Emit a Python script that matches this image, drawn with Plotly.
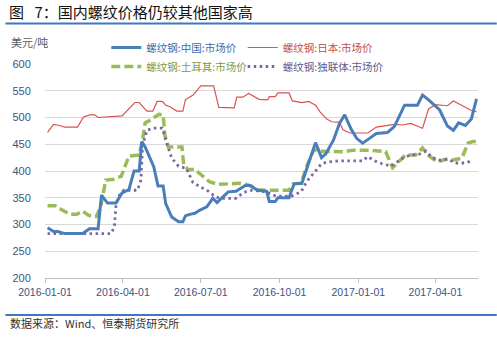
import plotly.graph_objects as go

# 螺纹钢市场价（美元/吨）
china_dates = ["2016-01-04", "2016-01-11", "2016-01-16", "2016-01-24", "2016-02-14", "2016-02-22",
               "2016-03-03", "2016-03-07", "2016-03-14", "2016-03-24", "2016-03-31", "2016-04-08",
               "2016-04-14", "2016-04-20", "2016-04-23", "2016-04-27", "2016-05-07", "2016-05-12",
               "2016-05-18", "2016-05-21", "2016-05-28", "2016-06-05", "2016-06-10", "2016-06-13",
               "2016-06-18", "2016-06-24", "2016-06-30", "2016-07-08", "2016-07-15", "2016-07-20",
               "2016-07-25", "2016-08-02", "2016-08-11", "2016-08-22", "2016-08-28", "2016-09-05",
               "2016-09-16", "2016-09-19", "2016-09-26", "2016-09-29", "2016-10-12", "2016-10-18",
               "2016-10-27", "2016-11-12", "2016-11-19", "2016-11-24", "2016-12-03", "2016-12-10",
               "2016-12-16", "2016-12-24", "2016-12-30", "2017-01-06", "2017-01-14", "2017-01-22",
               "2017-02-04", "2017-02-12", "2017-02-24", "2017-03-11", "2017-03-17", "2017-03-24",
               "2017-04-06", "2017-04-15", "2017-04-22", "2017-04-28", "2017-05-06", "2017-05-13",
               "2017-05-19"]
china_price = [294, 287, 287, 283, 283, 292,
               292, 355, 340, 340, 359, 365,
               400, 400, 455, 445, 408, 372,
               372, 339, 314, 305, 305, 316,
               319, 321, 327, 333, 349, 341,
               349, 361, 362, 373, 373, 364,
               362, 343, 343, 350, 350, 376,
               377, 453, 425, 432, 458, 489,
               505, 477, 461, 452, 461, 470,
               472, 483, 523, 523, 542, 533,
               514, 484, 476, 490, 485, 497,
               535]

japan_dates = ["2016-01-04", "2016-01-11", "2016-01-18", "2016-01-24", "2016-02-08", "2016-02-15",
               "2016-02-22", "2016-02-28", "2016-03-03", "2016-03-31", "2016-04-15", "2016-04-20",
               "2016-04-29", "2016-05-06", "2016-05-11", "2016-05-17", "2016-05-21", "2016-05-26",
               "2016-06-03", "2016-06-10", "2016-06-13", "2016-06-22", "2016-07-01", "2016-07-16",
               "2016-07-22", "2016-08-09", "2016-08-12", "2016-08-19", "2016-08-26", "2016-09-07",
               "2016-09-17", "2016-09-19", "2016-09-26", "2016-09-29", "2016-10-12", "2016-10-16",
               "2016-10-27", "2016-11-04", "2016-11-12", "2016-11-17", "2016-11-25", "2016-12-01",
               "2016-12-10", "2016-12-14", "2016-12-22", "2017-01-12", "2017-01-22", "2017-01-30",
               "2017-02-06", "2017-02-12", "2017-02-22", "2017-03-03", "2017-03-17", "2017-03-24",
               "2017-04-01", "2017-04-15", "2017-04-22", "2017-05-04", "2017-05-13", "2017-05-19"]
japan_price = [472, 487, 485, 482, 482, 501,
               505, 505, 500, 503, 528, 528,
               512, 512, 530, 530, 523, 520,
               512, 512, 533, 542, 559, 559,
               519, 518, 538, 538, 545, 534,
               533, 539, 539, 546, 546, 531,
               528, 530, 523, 511, 497, 492,
               491, 477, 471, 471, 482, 484,
               485, 487, 486, 489, 480, 516,
               524, 522, 531, 520, 513, 511]

turkey_dates = ["2016-01-04", "2016-01-13", "2016-01-20", "2016-01-30", "2016-02-07", "2016-02-14",
                "2016-02-21", "2016-03-01", "2016-03-06", "2016-03-12", "2016-03-20", "2016-03-30",
                "2016-04-02", "2016-04-08", "2016-04-20", "2016-04-24", "2016-04-27", "2016-05-05",
                "2016-05-13", "2016-05-18", "2016-05-20", "2016-05-24", "2016-06-09", "2016-06-11",
                "2016-06-16", "2016-06-24", "2016-07-02", "2016-07-11", "2016-07-21", "2016-08-15",
                "2016-08-25", "2016-09-06", "2016-09-15", "2016-10-12", "2016-10-17", "2016-10-26",
                "2016-11-02", "2016-11-10", "2016-11-17", "2016-11-29", "2016-12-14", "2016-12-26",
                "2017-01-14", "2017-02-02", "2017-02-10", "2017-02-20", "2017-02-25", "2017-03-09",
                "2017-03-17", "2017-03-24", "2017-04-03", "2017-04-13", "2017-04-20", "2017-05-02",
                "2017-05-09", "2017-05-15", "2017-05-19"]
turkey_price = [335, 335, 328, 319, 319, 325,
                317, 315, 333, 383, 384, 390,
                402, 428, 430, 458, 490, 497,
                506, 505, 467, 445, 445, 411,
                403, 403, 392, 380, 375, 377,
                374, 365, 364, 364, 376, 377,
                410, 440, 437, 436, 436, 439,
                439, 436, 406, 422, 430, 430,
                443, 429, 417, 422, 420, 424,
                452, 455, 455]

cis_dates = ["2016-01-04", "2016-03-18", "2016-03-22", "2016-03-24", "2016-03-28", "2016-04-02",
             "2016-04-18", "2016-04-22", "2016-04-24", "2016-04-29", "2016-05-07", "2016-05-17",
             "2016-05-22", "2016-05-28", "2016-06-05", "2016-06-14", "2016-06-22", "2016-06-30",
             "2016-07-10", "2016-07-18", "2016-07-23", "2016-08-11", "2016-08-20", "2016-08-30",
             "2016-09-15", "2016-09-27", "2016-10-15", "2016-10-26", "2016-11-02", "2016-11-12",
             "2016-11-19", "2016-11-27", "2016-12-10", "2017-01-06", "2017-01-12", "2017-01-20",
             "2017-01-28", "2017-02-08", "2017-02-16", "2017-02-23", "2017-03-03", "2017-03-11",
             "2017-03-21", "2017-03-28", "2017-04-07", "2017-04-16", "2017-04-24", "2017-05-06",
             "2017-05-15"]
cis_price = [283, 283, 295, 339, 355, 364,
             364, 383, 448, 476, 480, 480,
             453, 424, 409, 405, 378, 371,
             362, 352, 349, 349, 360, 364,
             361, 353, 353, 361, 381, 400,
             414, 417, 419, 419, 427, 419,
             414, 409, 417, 425, 430, 430,
             437, 425, 420, 422, 415, 415,
             420]

tick_dates = ["2016-01-01", "2016-04-01", "2016-07-01", "2016-10-01", "2017-01-01", "2017-04-01"]
y_ticks = [200, 250, 300, 350, 400, 450, 500, 550, 600]

BLUE = "#4A7EBB"
RED = "#D9534F"
GREEN = "#9BBB59"
PURPLE = "#8064A2"
RULE = "#3C78C3"
TICK_COLOR = "#3B5580"

W, H = 497, 337
L, R, T, B = 40, 19, 64, 59
PW, PH = W - L - R, H - T - B


def px_x(x):
    return (x - L) / PW


def px_y(y):
    return (H - B - y) / PH


def label(name, color):
    return f"<span style='color:{color}'>{name}</span>"


fig = go.Figure()

fig.add_trace(go.Scatter(
    x=turkey_dates, y=turkey_price, mode="lines",
    name=label("螺纹钢:土耳其:市场价", "#7F9A45"),
    line=dict(color=GREEN, width=3.5, dash="9px,4px"),
    legend="legend", legendrank=2, legendgroup="tr"))
fig.add_trace(go.Scatter(
    x=cis_dates, y=cis_price, mode="lines",
    name=label("螺纹钢:独联体:市场价", "#625A8C"),
    line=dict(color=PURPLE, width=2.8, dash="2.5px,3.5px"),
    legend="legend2", legendrank=2, legendgroup="cis"))
fig.add_trace(go.Scatter(
    x=japan_dates, y=japan_price, mode="lines",
    name=label("螺纹钢:日本:市场价", "#C0504D"),
    line=dict(color=RED, width=1.2),
    legend="legend2", legendrank=1, legendgroup="jp"))
fig.add_trace(go.Scatter(
    x=china_dates, y=china_price, mode="lines",
    name=label("螺纹钢:中国:市场价", "#3D6CA8"),
    line=dict(color=BLUE, width=3),
    legend="legend", legendrank=1, legendgroup="cn"))

legend_common = dict(
    orientation="v", xanchor="left", yanchor="top",
    bgcolor="rgba(0,0,0,0)", borderwidth=0,
    font=dict(family="Noto Sans CJK SC", size=10.5),
    tracegroupgap=0, itemwidth=30,
)

fig.update_layout(
    width=W, height=H,
    margin=dict(l=L, r=R, t=T, b=B, pad=0),
    paper_bgcolor="white", plot_bgcolor="white",
    showlegend=True,
    legend=dict(x=px_x(102), y=px_y(33), **legend_common),
    legend2=dict(x=px_x(240), y=px_y(33), **legend_common),
    xaxis=dict(
        type="date",
        range=["2016-01-01", "2017-05-20 18:00"],
        tickvals=tick_dates, ticktext=tick_dates,
        showgrid=False, zeroline=False,
        showline=True, linecolor="#BFBFBF", linewidth=1.2,
        ticks="outside", ticklen=4, tickcolor="#BFBFBF", tickwidth=1,
        tickfont=dict(family="Liberation Sans", size=10.5, color=TICK_COLOR),
    ),
    yaxis=dict(
        range=[200, 600],
        tickvals=y_ticks,
        showgrid=True, gridcolor="#D9D9D9", gridwidth=1,
        zeroline=False, showline=False,
        ticks="outside", ticklen=11, tickcolor="rgba(0,0,0,0)",
        tickfont=dict(family="Liberation Sans", size=11, color=TICK_COLOR),
    ),
    annotations=[
        dict(text="图\u2002\u20097：国内螺纹价格仍较其他国家高",
             xref="paper", yref="paper", x=px_x(2), y=px_y(12),
             xanchor="left", yanchor="middle", showarrow=False,
             font=dict(family="Noto Sans CJK SC", size=15, color="#111111")),
        dict(text="美元/吨",
             xref="paper", yref="paper", x=px_x(4), y=px_y(42),
             xanchor="left", yanchor="middle", showarrow=False,
             font=dict(family="Noto Sans CJK SC", size=11, color="#595959")),
        dict(text="数据来源：Wind、恒泰期货研究所",
             xref="paper", yref="paper", x=px_x(3), y=px_y(323),
             xanchor="left", yanchor="middle", showarrow=False,
             font=dict(family="Noto Sans CJK SC", size=11, color="#333333")),
    ],
    shapes=[
        dict(type="line", xref="paper", yref="paper",
             x0=px_x(0), x1=px_x(W), y0=px_y(23.5), y1=px_y(23.5),
             line=dict(color=RULE, width=2)),
        dict(type="line", xref="paper", yref="paper",
             x0=px_x(0), x1=px_x(W), y0=px_y(315), y1=px_y(315),
             line=dict(color=RULE, width=2)),
    ],
)

fig.write_html("out.html")
